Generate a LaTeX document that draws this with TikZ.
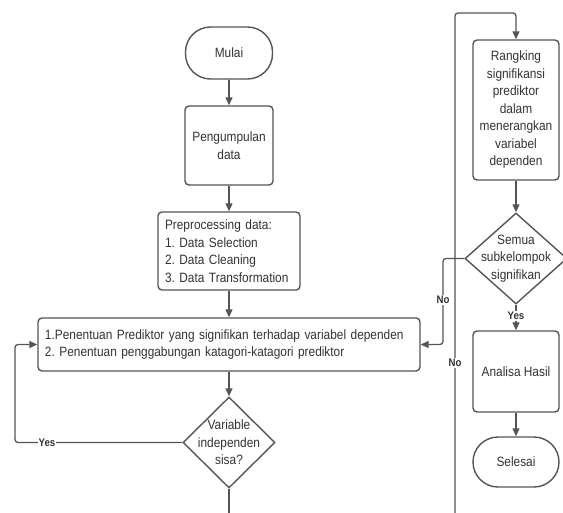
\documentclass[tikz,border=0pt]{standalone}
\usepackage{fontspec}
\setmainfont[FakeStretch=0.88]{Liberation Sans}
\usetikzlibrary{arrows.meta,shapes.geometric}
\definecolor{ln}{HTML}{555555}
\definecolor{tx}{HTML}{333333}
\frenchspacing
\begin{document}
\begin{tikzpicture}[x=1pt,y=-1pt,
  txt/.style={text=tx, font=\fontsize{13.5}{17.5}\selectfont, align=center, inner sep=0pt},
  box/.style={txt, draw=ln, line width=1.4pt, rounded corners=4pt, fill=white},
  term/.style={box, rounded corners=25pt},
  dia/.style={draw=ln, line width=1.4pt, diamond, inner sep=0pt, fill=white},
  conn/.style={draw=ln, line width=1.3pt},
  arr/.style={conn, -{Triangle[length=8pt,width=7pt]}},
  lab/.style={text=tx, font=\fontsize{11}{12}\selectfont\bfseries, fill=white, inner sep=1pt}
]
\useasboundingbox[fill=white] (0,0) rectangle (563,513);

% left column
\node[term, minimum width=87pt, minimum height=52pt] (mulai) at (229,53) {Mulai};
\node[box, minimum width=88pt, minimum height=79pt] (peng) at (229,145.5) {Pengumpulan\\data};
\node[box, align=left, text width=128pt, inner xsep=7pt, minimum height=78pt] (prep) at (229,251)
  {Preprocessing data:\\1. Data Selection\\2. Data Cleaning\\3. Data Transformation};
\node[box, align=left, text width=368pt, inner xsep=7pt, minimum height=53pt] (pen) at (229,344.5)
  {1.Penentuan Prediktor yang signifikan terhadap variabel dependen\\2. Penentuan penggabungan katagori-katagori prediktor};
\node[dia, minimum width=92pt, minimum height=91pt] (d1) at (229,442.5) {};
\node[txt] (d1t) at (d1.center) {Variable\\independen\\sisa?};

% right column
\node[box, minimum width=86pt, minimum height=140pt] (rank) at (516,110)
  {Rangking\\signifikansi\\prediktor\\dalam\\menerangkan\\variabel\\dependen};
\node[dia, minimum width=102pt, minimum height=91pt] (d2) at (516,258.5) {};
\node[txt] (d2t) at (d2.center) {Semua\\subkelompok\\signifikan};
\node[box, minimum width=86pt, minimum height=81pt] (ana) at (516,371.5) {Analisa Hasil};
\node[term, minimum width=86pt, minimum height=50pt] (sel) at (516,462) {Selesai};

% coordinates for free ends / bends
\coordinate (bot1) at (229,514);
\coordinate (yl) at (15,442.5);
\coordinate (bot2) at (455,514);
\coordinate (top) at (455,13);
\coordinate (nx) at (443,300);

% connectors
\draw[arr] (mulai) -- (peng);
\draw[arr] (peng) -- (prep);
\draw[arr] (prep) -- (pen);
\draw[arr] (pen) -- (d1);
\draw[conn] (d1.south) -- (bot1);
\draw[arr, rounded corners=3pt] (d1.west) -- (yl) |- (pen.west);
\node[lab] (yes1) at (47,442.5) {Yes};

\draw[arr, rounded corners=3pt] (bot2) -- (top) -| (rank.north);
\node[lab] (no2) at (455,363) {No};
\draw[arr] (rank) -- (d2);
\draw[arr, rounded corners=3pt] (d2.west) -| (nx) |- (pen.east);
\node[lab] (no1) at (nx) {No};
\draw[arr] (d2.south) -- (ana.north);
\node[lab] (yes2) at (516,316) {Yes};
\draw[arr] (ana) -- (sel);
\end{tikzpicture}
\end{document}
